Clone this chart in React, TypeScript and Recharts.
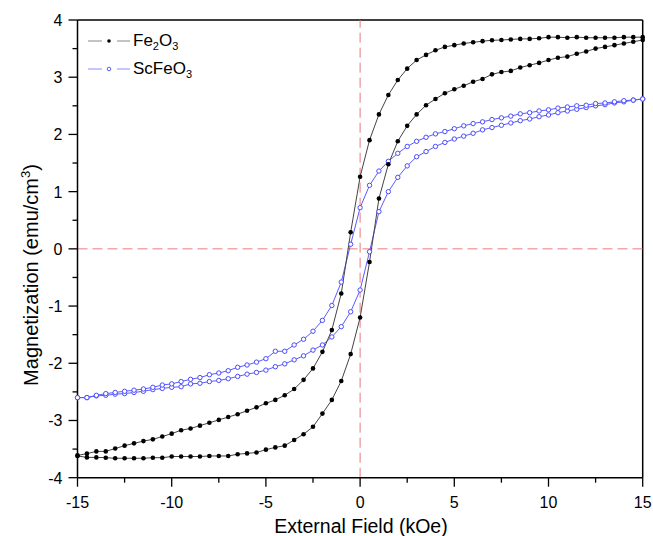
import { LineChart, Line, XAxis, YAxis, ReferenceLine } from "recharts";

// applied field (kOe), one point every 0.5 kOe
const fieldKOe = [
  -15, -14.5, -14, -13.5, -13, -12.5, -12, -11.5, -11, -10.5, -10, -9.5, -9, -8.5, -8, -7.5,
  -7, -6.5, -6, -5.5, -5, -4.5, -4, -3.5, -3, -2.5, -2, -1.5, -1, -0.5, 0, 0.5, 1, 1.5, 2,
  2.5, 3, 3.5, 4, 4.5, 5, 5.5, 6, 6.5, 7, 7.5, 8, 8.5, 9, 9.5, 10, 10.5, 11, 11.5, 12, 12.5,
  13, 13.5, 14, 14.5, 15,
];

// Fe2O3 — branch switching near -0.6 kOe
const fe2o3BranchA = [
  -3.61, -3.58, -3.54, -3.54, -3.49, -3.44, -3.40, -3.36, -3.33, -3.28, -3.23, -3.17, -3.14,
  -3.09, -3.04, -2.99, -2.94, -2.89, -2.83, -2.77, -2.70, -2.64, -2.56, -2.45, -2.29, -2.09,
  -1.80, -1.42, -0.78, 0.29, 1.26, 1.90, 2.35, 2.69, 2.95, 3.15, 3.30, 3.39, 3.47, 3.53, 3.56,
  3.59, 3.61, 3.63, 3.645, 3.65, 3.66, 3.67, 3.67, 3.68, 3.70, 3.70, 3.69, 3.70, 3.69, 3.69,
  3.69, 3.69, 3.70, 3.70, 3.70,
];

// Fe2O3 — branch switching near +0.6 kOe
const fe2o3BranchB = [
  -3.62, -3.645, -3.645, -3.65, -3.66, -3.66, -3.66, -3.66, -3.65, -3.65, -3.63, -3.63, -3.63,
  -3.63, -3.62, -3.62, -3.62, -3.59, -3.575, -3.56, -3.51, -3.47, -3.44, -3.34, -3.24, -3.11,
  -2.88, -2.64, -2.31, -1.84, -1.20, -0.23, 0.88, 1.48, 1.88, 2.15, 2.35, 2.51, 2.62, 2.72,
  2.79, 2.85, 2.92, 2.97, 3.05, 3.09, 3.11, 3.17, 3.21, 3.25, 3.30, 3.34, 3.36, 3.41, 3.45,
  3.50, 3.53, 3.56, 3.59, 3.62, 3.65,
];

// ScFeO3 — branch switching near -0.5 kOe
const scfeo3BranchA = [
  -2.60, -2.60, -2.56, -2.53, -2.51, -2.49, -2.47, -2.45, -2.42, -2.38, -2.36, -2.32, -2.28,
  -2.25, -2.20, -2.17, -2.13, -2.07, -2.03, -1.98, -1.92, -1.79, -1.79, -1.68, -1.58, -1.44,
  -1.25, -0.99, -0.58, 0.08, 0.72, 1.11, 1.36, 1.53, 1.67, 1.79, 1.88, 1.95, 2.01, 2.05, 2.10,
  2.15, 2.19, 2.22, 2.26, 2.29, 2.32, 2.36, 2.38, 2.41, 2.43, 2.46, 2.48, 2.50, 2.51, 2.54,
  2.55, 2.57, 2.59, 2.60, 2.62,
];

// ScFeO3 — branch switching near +0.5 kOe
const scfeo3BranchB = [
  -2.60, -2.60, -2.57, -2.56, -2.54, -2.53, -2.51, -2.49, -2.46, -2.44, -2.42, -2.41, -2.36,
  -2.35, -2.32, -2.30, -2.27, -2.23, -2.19, -2.16, -2.12, -2.06, -2.01, -1.94, -1.87, -1.77,
  -1.68, -1.54, -1.36, -1.10, -0.72, -0.05, 0.65, 1.00, 1.25, 1.45, 1.61, 1.70, 1.79, 1.86,
  1.92, 1.97, 2.02, 2.08, 2.12, 2.16, 2.20, 2.24, 2.27, 2.31, 2.34, 2.38, 2.41, 2.44, 2.47,
  2.50, 2.52, 2.55, 2.57, 2.60, 2.62,
];

const xTicks = [-15, -12.5, -10, -7.5, -5, -2.5, 0, 2.5, 5, 7.5, 10, 12.5, 15];
const yTicks = [-4, -3.5, -3, -2.5, -2, -1.5, -1, -0.5, 0, 0.5, 1, 1.5, 2, 2.5, 3, 3.5, 4];

const FONT = "'Liberation Sans', Arial, sans-serif";
const BLACK_LINE = "#444";
const BLUE_LINE = "#5a5aff";

const toRows = (values: number[]) => fieldKOe.map((h, i) => ({ h, m: values[i] }));

const XTick = (props: any) => {
  const { x, y, payload } = props;
  const major = payload.value % 5 === 0;
  return (
    <g>
      <line x1={x} x2={x} y1={y} y2={y + (major ? 9 : 5)} stroke="#000" strokeWidth={1.3} />
      {major && (
        <text x={x} y={y + 30} textAnchor="middle" fontSize={16} fontFamily={FONT} fill="#000">
          {payload.value}
        </text>
      )}
    </g>
  );
};

const YTick = (props: any) => {
  const { x, y, payload } = props;
  const major = payload.value % 1 === 0;
  return (
    <g>
      <line x1={x} x2={x - (major ? 9 : 5)} y1={y} y2={y} stroke="#000" strokeWidth={1.3} />
      {major && (
        <text x={x - 15} y={y + 6} textAnchor="end" fontSize={16} fontFamily={FONT} fill="#000">
          {payload.value}
        </text>
      )}
    </g>
  );
};

const YTitle = () => (
  <text
    transform="translate(38, 275) rotate(-90)"
    textAnchor="middle"
    fontSize={20}
    fontFamily={FONT}
    fill="#000"
  >
    Magnetization (emu/cm
    <tspan fontSize={13} dy={-8}>3</tspan>
    <tspan dy={8}>)</tspan>
  </text>
);

const XTitle = () => (
  <text x={361} y={533} textAnchor="middle" fontSize={19.5} fontFamily={FONT} fill="#000">
    External Field (kOe)
  </text>
);

const subStyle = { fontSize: 11, verticalAlign: "sub", lineHeight: 0 } as const;

const legendRows = [
  { key: "fe", line: "#888", filled: true, color: "#000", label: <>Fe<sub style={subStyle}>2</sub>O<sub style={subStyle}>3</sub></> },
  { key: "sc", line: "#8a8aff", filled: false, color: "#4b4bff", label: <>ScFeO<sub style={subStyle}>3</sub></> },
];

const LegendBox = () => (
  <div style={{ position: "absolute", left: 86, top: 27, fontFamily: FONT, fontSize: 17, color: "#000" }}>
    {legendRows.map((r) => (
      <div key={r.key} style={{ display: "flex", alignItems: "center", height: 28 }}>
        <svg width={46} height={10}>
          <line x1={2} x2={16} y1={5} y2={5} stroke={r.line} strokeWidth={1} />
          <circle cx={23} cy={5} r={1.8} fill={r.filled ? r.color : "#fff"} stroke={r.color} strokeWidth={r.filled ? 0 : 0.9} />
          <line x1={31} x2={44} y1={5} y2={5} stroke={r.line} strokeWidth={1} />
        </svg>
        <span style={{ marginLeft: 1 }}>{r.label}</span>
      </div>
    ))}
  </div>
);

const blackDot = { r: 2.3, fill: "#000", stroke: "none" };
const blueDot = { r: 2.2, fill: "#fff", stroke: "#4b4bff", strokeWidth: 1 };

export default function App() {
  return (
    <div style={{ position: "absolute", left: 0, top: 0, width: 653, height: 536, background: "#fff" }}>
      <LineChart width={653} height={536} margin={{ top: 20, right: 10.3, bottom: 0, left: 0 }}>
        <XAxis
          type="number"
          dataKey="h"
          domain={[-15, 15]}
          ticks={xTicks}
          interval={0}
          allowDuplicatedCategory={false}
          height={58.3}
          tickSize={0}
          tickMargin={0}
          tickLine={false}
          tick={<XTick />}
          axisLine={{ stroke: "#000", strokeWidth: 1.5 }}
          label={<XTitle />}
        />
        <YAxis
          type="number"
          dataKey="m"
          domain={[-4, 4]}
          ticks={yTicks}
          interval={0}
          width={77.5}
          tickSize={0}
          tickMargin={0}
          tickLine={false}
          tick={<YTick />}
          axisLine={{ stroke: "#000", strokeWidth: 1.5 }}
          label={<YTitle />}
        />
        <ReferenceLine y={4} stroke="#000" strokeWidth={1.5} />
        <ReferenceLine x={15} stroke="#000" strokeWidth={1.5} />
        <ReferenceLine y={0} stroke="#f07a7a" strokeWidth={1} strokeDasharray="10 5" />
        <ReferenceLine x={0} stroke="#e87878" strokeWidth={1} strokeDasharray="10 5" />
        <Line data={toRows(scfeo3BranchB)} dataKey="m" name="ScFeO3" type="linear" stroke={BLUE_LINE} strokeWidth={1} dot={blueDot} isAnimationActive={false} />
        <Line data={toRows(scfeo3BranchA)} dataKey="m" name="ScFeO3 " type="linear" stroke={BLUE_LINE} strokeWidth={1} dot={blueDot} isAnimationActive={false} />
        <Line data={toRows(fe2o3BranchB)} dataKey="m" name="Fe2O3" type="linear" stroke={BLACK_LINE} strokeWidth={1} dot={blackDot} isAnimationActive={false} />
        <Line data={toRows(fe2o3BranchA)} dataKey="m" name="Fe2O3 " type="linear" stroke={BLACK_LINE} strokeWidth={1} dot={blackDot} isAnimationActive={false} />
      </LineChart>
      <LegendBox />
    </div>
  );
}
